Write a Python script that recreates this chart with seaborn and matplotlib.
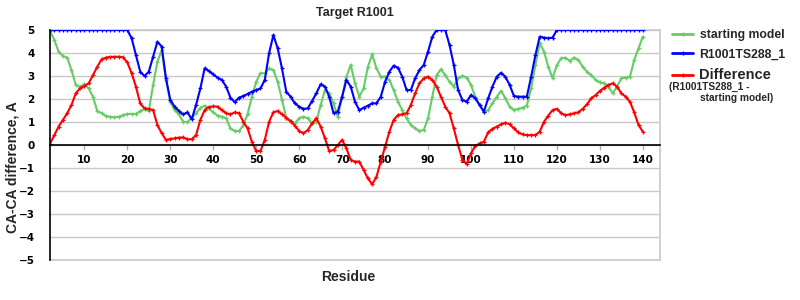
import matplotlib
matplotlib.use("Agg")
import matplotlib.pyplot as plt
from matplotlib.lines import Line2D
import numpy as np
import pandas as pd
import seaborn as sns

residues = list(range(2, 141))

starting_model = [
    4.96, 4.57, 4.06, 3.87, 3.80, 3.26, 2.61, 2.54, 2.64, 2.46,   # 2-11
    2.10, 1.48, 1.38, 1.26, 1.23, 1.20, 1.23, 1.30, 1.35, 1.35,   # 12-21
    1.35, 1.48, 1.55, 1.48, 2.61, 3.62, 4.13, 2.83, 1.88, 1.52,   # 22-31
    1.33, 1.01, 0.99, 1.19, 1.38, 1.62, 1.71, 1.59, 1.42, 1.28,   # 32-41
    1.23, 1.16, 0.72, 0.61, 0.61, 0.85, 1.35, 2.10, 2.75, 3.12,   # 42-51
    3.12, 3.33, 3.26, 2.75, 1.96, 1.19, 0.99, 0.94, 1.16, 1.23,   # 52-61
    1.16, 0.94, 1.01, 1.74, 2.39, 2.25, 1.81, 1.23, 2.10, 2.97,   # 62-71
    3.48, 2.68, 2.10, 2.46, 3.40, 3.94, 3.33, 2.97, 2.97, 2.83,   # 72-81
    2.39, 1.88, 1.52, 1.16, 0.87, 0.72, 0.61, 0.65, 1.16, 2.10,   # 82-91
    3.04, 3.29, 3.04, 2.75, 2.54, 2.90, 3.01, 2.93, 2.61, 2.10,   # 92-101
    1.74, 1.42, 1.52, 1.81, 2.10, 2.35, 2.03, 1.67, 1.52, 1.57,   # 102-111
    1.62, 1.71, 2.46, 3.48, 4.42, 4.06, 3.40, 2.90, 3.48, 3.77,   # 112-121
    3.80, 3.65, 3.80, 3.70, 3.40, 3.19, 3.04, 2.83, 2.72, 2.68,   # 122-131
    2.54, 2.25, 2.54, 2.90, 2.93, 2.97, 3.70, 4.20, 4.71,         # 132-140
]

r1001ts288_1 = [
    5.00, 5.00, 5.00, 5.00, 5.00, 5.00, 5.00, 5.00, 5.00, 5.00,   # 2-11
    5.00, 5.00, 5.00, 5.00, 5.00, 5.00, 5.00, 5.00, 5.00, 4.64,   # 12-21
    3.91, 3.19, 3.00, 3.19, 3.84, 4.49, 4.28, 2.90, 1.96, 1.67,   # 22-31
    1.48, 1.33, 1.42, 1.12, 1.74, 2.46, 3.33, 3.22, 3.07, 2.93,   # 32-41
    2.83, 2.54, 2.06, 1.86, 2.06, 2.13, 2.22, 2.32, 2.39, 2.46,   # 42-51
    2.83, 3.99, 4.78, 4.20, 3.33, 2.32, 2.10, 1.81, 1.67, 1.57,   # 52-61
    1.59, 1.91, 2.25, 2.64, 2.54, 2.10, 1.38, 1.45, 2.10, 2.83,   # 62-71
    2.54, 1.88, 1.52, 1.62, 1.71, 1.81, 1.81, 2.10, 2.75, 3.19,   # 72-81
    3.45, 3.36, 2.97, 2.39, 2.39, 2.90, 3.26, 3.48, 4.06, 4.71,   # 82-91
    5.00, 5.00, 5.00, 4.35, 3.48, 2.39, 1.96, 1.88, 2.17, 2.03,   # 92-101
    1.74, 1.45, 2.03, 2.54, 2.97, 3.14, 2.97, 2.61, 2.13, 2.10,   # 102-111
    2.10, 2.10, 2.97, 3.91, 4.71, 4.67, 4.64, 4.67, 5.00, 5.00,   # 112-121
    5.00, 5.00, 5.00, 5.00, 5.00, 5.00, 5.00, 5.00, 5.00, 5.00,   # 122-131
    5.00, 5.00, 5.00, 5.00, 5.00, 5.00, 5.00, 5.00, 5.00,         # 132-140
]

difference = [
    0.05, 0.43, 0.80, 1.09, 1.38, 1.74, 2.25, 2.46, 2.57, 2.68,   # 2-11
    3.04, 3.40, 3.72, 3.80, 3.83, 3.83, 3.84, 3.81, 3.59, 3.12,   # 12-21
    2.54, 1.81, 1.59, 1.57, 1.52, 0.87, 0.51, 0.22, 0.26, 0.29,   # 22-31
    0.32, 0.33, 0.25, 0.25, 0.43, 1.09, 1.52, 1.65, 1.68, 1.67,   # 32-41
    1.52, 1.38, 1.33, 1.42, 1.38, 1.01, 0.72, 0.14, -0.26, -0.26, # 42-51
    0.22, 1.01, 1.42, 1.48, 1.33, 1.19, 1.04, 0.84, 0.61, 0.51,   # 52-61
    0.65, 0.94, 1.16, 0.80, 0.29, -0.26, -0.22, 0.00, 0.22, -0.14,  # 62-71
    -0.65, -0.72, -0.72, -1.09, -1.45, -1.71, -1.38, -0.72, -0.07, 0.58,  # 72-81
    1.09, 1.30, 1.33, 1.38, 1.74, 2.25, 2.68, 2.90, 2.97, 2.83,   # 82-91
    2.54, 2.10, 1.67, 1.38, 0.72, 0.00, -0.65, -0.84, -0.36, -0.04,  # 92-101
    0.07, 0.14, 0.55, 0.70, 0.80, 0.90, 0.97, 0.90, 0.72, 0.55,   # 102-111
    0.46, 0.43, 0.43, 0.43, 0.58, 1.01, 1.28, 1.52, 1.57, 1.38,   # 112-121
    1.30, 1.33, 1.38, 1.42, 1.57, 1.77, 2.03, 2.17, 2.35, 2.49,   # 122-131
    2.61, 2.68, 2.54, 2.25, 2.10, 1.88, 1.42, 0.87, 0.58,         # 132-140
]

series_names = ["starting model", "R1001TS288_1", "Difference"]
series_colors = ["#66cc66", "#0000ff", "#ff0000"]
x_ticks = list(range(10, 141, 10))
y_ticks = list(range(-5, 6))

assert len(starting_model) == len(residues)
assert len(r1001ts288_1) == len(residues)
assert len(difference) == len(residues)

df = pd.DataFrame({
    "Residue": residues * 3,
    "value": starting_model + r1001ts288_1 + difference,
    "series": ([series_names[0]] * len(residues) + [series_names[1]] * len(residues)
               + [series_names[2]] * len(residues)),
})

sns.set_theme(style="white")
plt.rcParams["font.family"] = ["DejaVu Sans"]

fig = plt.figure(figsize=(8, 3), dpi=100)
ax = fig.add_axes([50 / 800, 1 - 260 / 300, 610 / 800, 230 / 300])

sns.lineplot(data=df, x="Residue", y="value", hue="series", hue_order=series_names,
             palette=dict(zip(series_names, series_colors)), marker="+", markersize=3,
             markeredgewidth=0.9, linewidth=1.5, ax=ax, legend=False)
for ln in ax.lines:
    ln.set_markeredgecolor(ln.get_color())
    ln.set_markerfacecolor(ln.get_color())

ax.set_xlim(2, 144)
ax.set_ylim(-5, 5)
ax.set_axisbelow(True)
ax.yaxis.grid(True, color="#c8c8c8", linewidth=1)
ax.xaxis.grid(False)
ax.axhline(-5, color="#c8c8c8", linewidth=1.2, clip_on=False, zorder=0.5)
ax.axhline(5, color="#c8c8c8", linewidth=1.2, clip_on=False, zorder=0.5)

ax.spines["top"].set_visible(False)
ax.spines["right"].set_color("#c8c8c8")
ax.spines["right"].set_linewidth(1.2)
ax.spines["left"].set_color("black")
ax.spines["left"].set_linewidth(1.2)
ax.spines["bottom"].set_position(("data", 0))
ax.spines["bottom"].set_color("black")
ax.spines["bottom"].set_linewidth(1.2)

ax.set_xticks(x_ticks)
ax.set_yticks(y_ticks)
ax.tick_params(axis="x", direction="out", length=3.5, width=1, color="#b0b0b0",
               labelsize=7.5, pad=3.5, bottom=True)
ax.tick_params(axis="y", length=0, labelsize=7.5, pad=11, left=True)
for lbl in ax.get_xticklabels() + ax.get_yticklabels():
    lbl.set_fontweight("bold")
    lbl.set_color("black")

lab_font = dict(family="Liberation Sans", weight="bold", size=10)
ax.set_xlabel("Residue", **lab_font)
ax.set_ylabel("CA-CA difference, A", **lab_font)
ax.xaxis.set_label_coords((348 - 50) / 610, (260 - 270) / 230)
ax.yaxis.set_label_coords((20 - 50) / 610, (260 - 167) / 230)
ax.set_title("Target R1001", family="Liberation Sans", weight="bold", size=9, pad=10)

handles = [Line2D([0], [0], color=c, lw=2, marker="+", markersize=3,
                  markeredgecolor=c) for c in series_colors]
leg = ax.legend(handles, series_names, loc="upper left", bbox_to_anchor=(661 / 800, 1 - 18 / 300),
                bbox_transform=fig.transFigure, frameon=False, handlelength=1.75,
                handletextpad=0.5, labelspacing=0.62,
                prop=dict(family="Liberation Sans", weight="bold", size=8.8))
leg.get_texts()[2].set_fontsize(10.5)
fig.text(669 / 800, 1 - 87 / 300, "(R1001TS288_1 -", family="Liberation Sans",
         weight="bold", size=7.3, va="center", ha="left")
fig.text(700 / 800, 1 - 98 / 300, "starting model)", family="Liberation Sans",
         weight="bold", size=7.3, va="center", ha="left")

fig.savefig("out.png", dpi=100)
